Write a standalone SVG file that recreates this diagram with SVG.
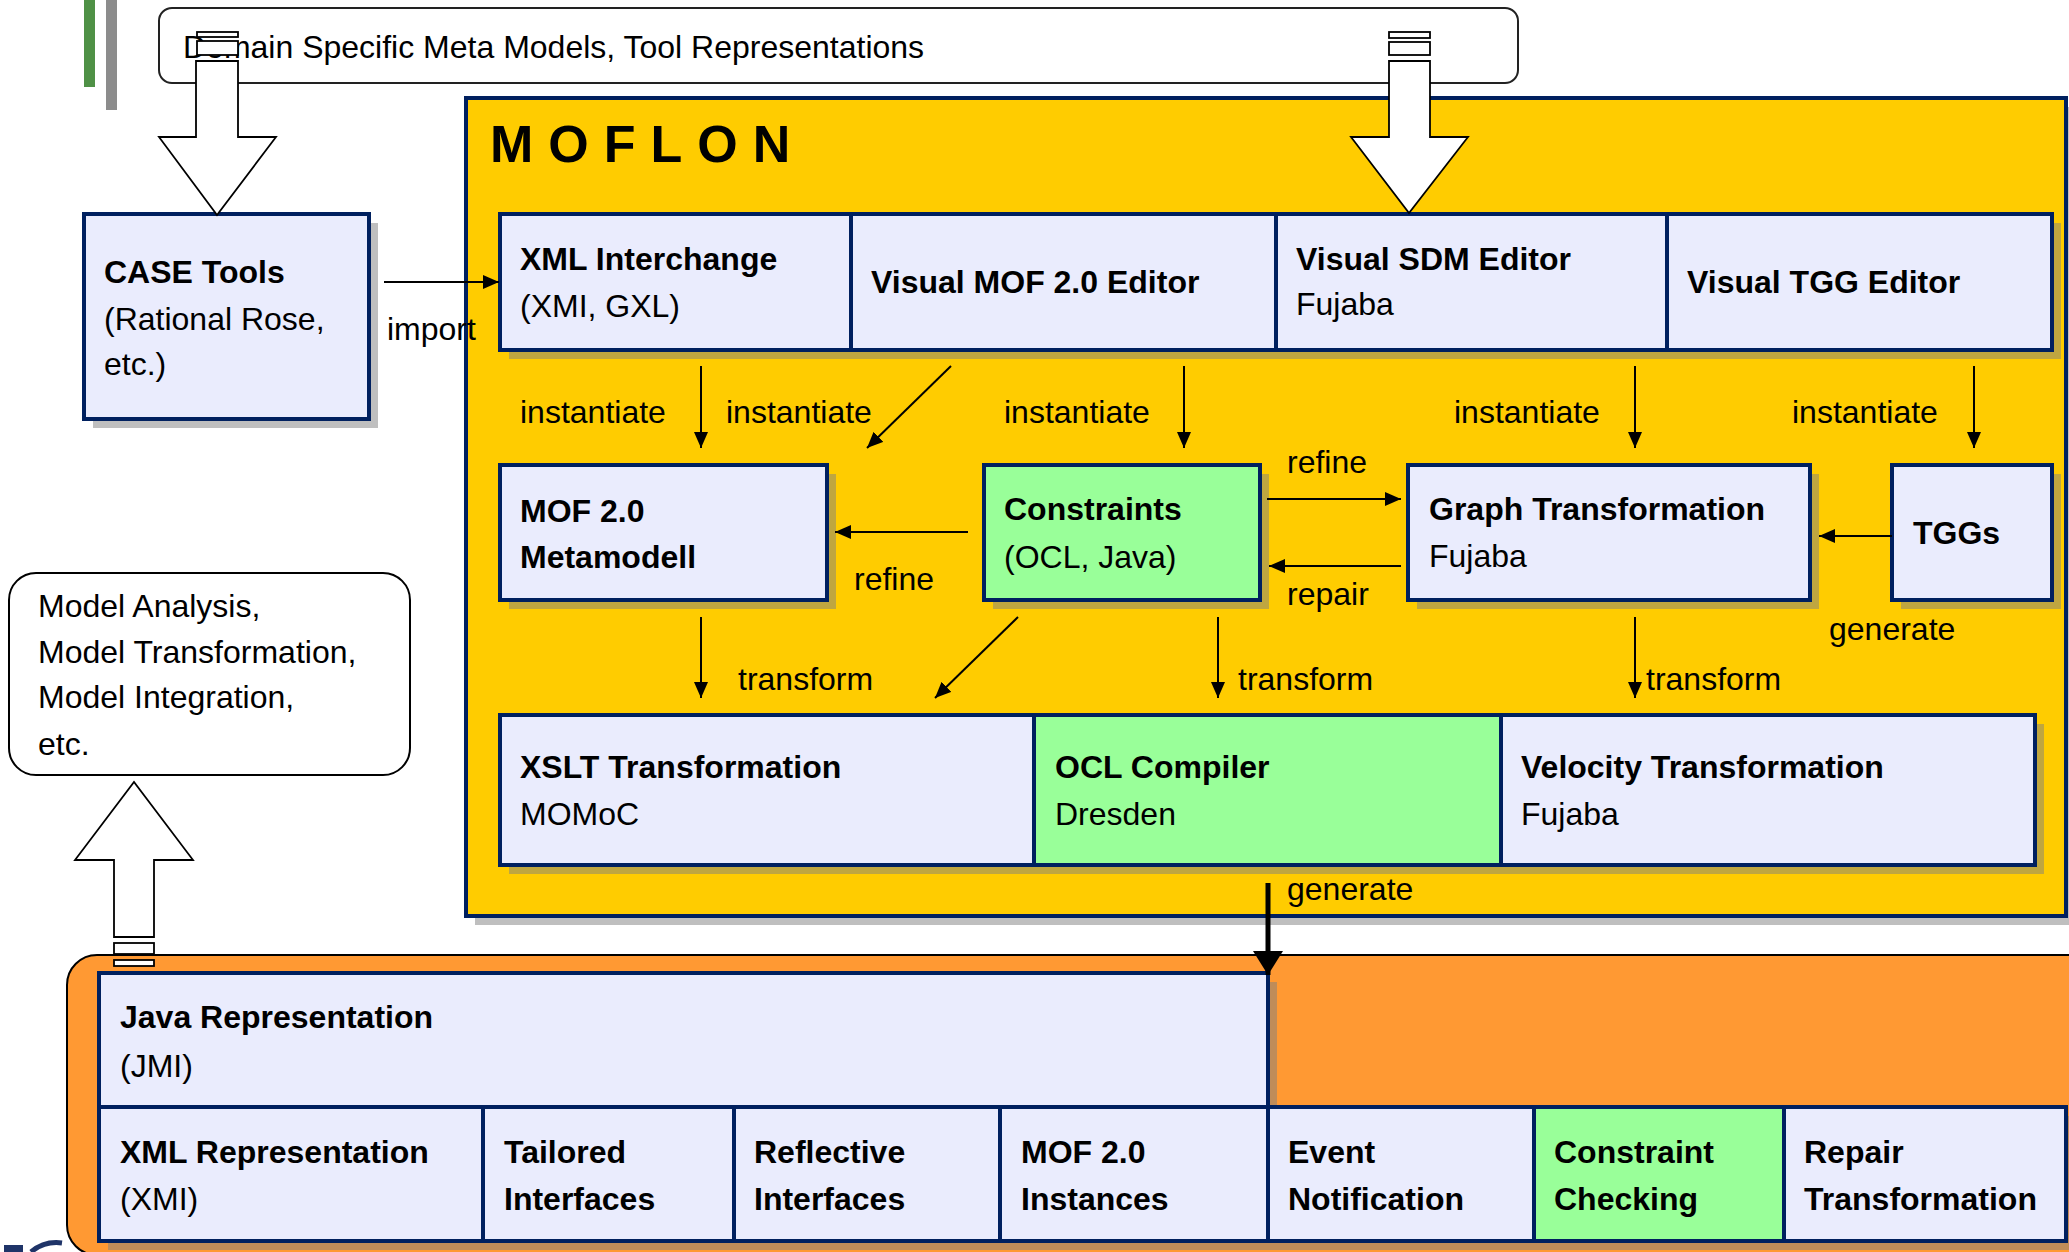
<svg xmlns="http://www.w3.org/2000/svg" width="2069" height="1252" viewBox="0 0 2069 1252">
<defs>
<style>
.t{font-family:"Liberation Sans",Arial,sans-serif;font-size:32px;fill:#000}
.bd{font-weight:bold}
.b{fill:#eaecfd;stroke:#00205f;stroke-width:4}
.g{fill:#99ff99;stroke:#00205f;stroke-width:4}
.sh{fill:#808080;fill-opacity:0.5}
.c{stroke:#000;stroke-width:2;fill:none;marker-end:url(#ah)}
.ho{fill:#fff;stroke:#000;stroke-width:1.8}
</style>
<marker id="ah" markerUnits="userSpaceOnUse" markerWidth="16" markerHeight="14" refX="16" refY="7" orient="auto"><path d="M0,0 L16,7 L0,14 z" fill="#000"/></marker>
<marker id="ah2" markerUnits="userSpaceOnUse" markerWidth="24" markerHeight="30" refX="24" refY="15" orient="auto"><path d="M0,0 L24,15 L0,30 z" fill="#000"/></marker>
</defs>
<rect width="2069" height="1252" fill="#fff"/>
<g id="bars"><rect x="84" y="0" width="11" height="87" fill="#4f9146"/><rect x="106" y="0" width="11" height="110" fill="#8c8c8c"/></g>
<g id="domain"><rect x="159" y="8" width="1359" height="75" rx="13" fill="#fff" stroke="#222" stroke-width="2"/><text class="t" x="183" y="58">Domain Specific Meta Models, Tool Representations</text></g>
<g id="moflon"><rect x="475" y="107" width="1600" height="818" class="sh"/><rect x="466" y="98" width="1600" height="818" fill="#ffcc00" stroke="#00205f" stroke-width="4"/><text class="t bd" x="490" y="162" style="font-size:52px;letter-spacing:15px">MOFLON</text></g>
<g id="orange"><rect x="67" y="955" width="2100" height="300" rx="30" fill="#ff9933" stroke="#000" stroke-width="2"/></g>
<g id="logo"><rect x="4" y="1245" width="19" height="7" fill="#1f3468"/><path d="M31,1252 A40,40 0 0 1 62,1243" fill="none" stroke="#1f3468" stroke-width="5"/></g>
<g id="case"><rect x="93" y="223" width="285" height="205" class="sh"/><rect x="84" y="214" width="285" height="205" class="b"/><text class="t bd" x="104" y="283">CASE Tools</text><text class="t" x="104" y="330">(Rational Rose,</text><text class="t" x="104" y="375">etc.)</text></g>
<g id="analysis"><rect x="9" y="573" width="401" height="202" rx="27" fill="#fff" stroke="#000" stroke-width="2"/><text class="t" x="38" y="617">Model Analysis,</text><text class="t" x="38" y="663">Model Transformation,</text><text class="t" x="38" y="708">Model Integration,</text><text class="t" x="38" y="755">etc.</text></g>
<g id="xmlinterchange"><rect x="509" y="223" width="351" height="136" class="sh"/><rect x="500" y="214" width="351" height="136" class="b"/><text class="t bd" x="520" y="270">XML Interchange</text><text class="t" x="520" y="317">(XMI, GXL)</text></g>
<g id="visualmof"><rect x="860" y="223" width="425" height="136" class="sh"/><rect x="851" y="214" width="425" height="136" class="b"/><text class="t bd" x="871" y="293">Visual MOF 2.0 Editor</text></g>
<g id="visualsdm"><rect x="1285" y="223" width="391" height="136" class="sh"/><rect x="1276" y="214" width="391" height="136" class="b"/><text class="t bd" x="1296" y="270">Visual SDM Editor</text><text class="t" x="1296" y="315">Fujaba</text></g>
<g id="visualtgg"><rect x="1676" y="223" width="385" height="136" class="sh"/><rect x="1667" y="214" width="385" height="136" class="b"/><text class="t bd" x="1687" y="293">Visual TGG Editor</text></g>
<g id="mofmeta"><rect x="509" y="474" width="327" height="135" class="sh"/><rect x="500" y="465" width="327" height="135" class="b"/><text class="t bd" x="520" y="522">MOF 2.0</text><text class="t bd" x="520" y="568">Metamodell</text></g>
<g id="constraints"><rect x="993" y="474" width="276" height="135" class="sh"/><rect x="984" y="465" width="276" height="135" class="g"/><text class="t bd" x="1004" y="520">Constraints</text><text class="t" x="1004" y="568">(OCL, Java)</text></g>
<g id="graphtrans"><rect x="1417" y="474" width="402" height="135" class="sh"/><rect x="1408" y="465" width="402" height="135" class="b"/><text class="t bd" x="1429" y="520">Graph Transformation</text><text class="t" x="1429" y="567">Fujaba</text></g>
<g id="tggs"><rect x="1901" y="474" width="160" height="135" class="sh"/><rect x="1892" y="465" width="160" height="135" class="b"/><text class="t bd" x="1913" y="544">TGGs</text></g>
<g id="xslt"><rect x="509" y="724" width="534" height="150" class="sh"/><rect x="500" y="715" width="534" height="150" class="b"/><text class="t bd" x="520" y="778">XSLT Transformation</text><text class="t" x="520" y="825">MOMoC</text></g>
<g id="oclcompiler"><rect x="1043" y="724" width="467" height="150" class="sh"/><rect x="1034" y="715" width="467" height="150" class="g"/><text class="t bd" x="1055" y="778">OCL Compiler</text><text class="t" x="1055" y="825">Dresden</text></g>
<g id="velocity"><rect x="1510" y="724" width="534" height="150" class="sh"/><rect x="1501" y="715" width="534" height="150" class="b"/><text class="t bd" x="1521" y="778">Velocity Transformation</text><text class="t" x="1521" y="825">Fujaba</text></g>
<g id="java"><rect x="108" y="982" width="1169" height="134" class="sh"/><rect x="99" y="973" width="1169" height="134" class="b"/><text class="t bd" x="120" y="1028">Java Representation</text><text class="t" x="120" y="1077">(JMI)</text></g>
<g id="xmlrep"><rect x="108" y="1116" width="384" height="134" class="sh"/><rect x="99" y="1107" width="384" height="134" class="b"/><text class="t bd" x="120" y="1163">XML Representation</text><text class="t" x="120" y="1210">(XMI)</text></g>
<g id="tailored"><rect x="492" y="1116" width="251" height="134" class="sh"/><rect x="483" y="1107" width="251" height="134" class="b"/><text class="t bd" x="504" y="1163">Tailored</text><text class="t bd" x="504" y="1210">Interfaces</text></g>
<g id="reflective"><rect x="743" y="1116" width="266" height="134" class="sh"/><rect x="734" y="1107" width="266" height="134" class="b"/><text class="t bd" x="754" y="1163">Reflective</text><text class="t bd" x="754" y="1210">Interfaces</text></g>
<g id="instances"><rect x="1009" y="1116" width="268" height="134" class="sh"/><rect x="1000" y="1107" width="268" height="134" class="b"/><text class="t bd" x="1021" y="1163">MOF 2.0</text><text class="t bd" x="1021" y="1210">Instances</text></g>
<g id="event"><rect x="1277" y="1116" width="266" height="134" class="sh"/><rect x="1268" y="1107" width="266" height="134" class="b"/><text class="t bd" x="1288" y="1163">Event</text><text class="t bd" x="1288" y="1210">Notification</text></g>
<g id="checking"><rect x="1543" y="1116" width="250" height="134" class="sh"/><rect x="1534" y="1107" width="250" height="134" class="g"/><text class="t bd" x="1554" y="1163">Constraint</text><text class="t bd" x="1554" y="1210">Checking</text></g>
<g id="repair"><rect x="1793" y="1116" width="282" height="134" class="sh"/><rect x="1784" y="1107" width="282" height="134" class="b"/><text class="t bd" x="1804" y="1163">Repair</text><text class="t bd" x="1804" y="1210">Transformation</text></g>
<g id="connectors">
<line class="c" x1="384" y1="282" x2="499" y2="282"/>
<line class="c" x1="701" y1="366" x2="701" y2="448"/>
<line class="c" x1="951" y1="366" x2="867" y2="448"/>
<line class="c" x1="1184" y1="366" x2="1184" y2="448"/>
<line class="c" x1="1635" y1="366" x2="1635" y2="448"/>
<line class="c" x1="1974" y1="366" x2="1974" y2="448"/>
<line class="c" x1="968" y1="532" x2="835" y2="532"/>
<line class="c" x1="1267" y1="499" x2="1401" y2="499"/>
<line class="c" x1="1401" y1="566" x2="1269" y2="566"/>
<line class="c" x1="1892" y1="536" x2="1819" y2="536"/>
<line class="c" x1="701" y1="617" x2="701" y2="698"/>
<line class="c" x1="1018" y1="617" x2="935" y2="698"/>
<line class="c" x1="1218" y1="617" x2="1218" y2="698"/>
<line class="c" x1="1635" y1="617" x2="1635" y2="698"/>
<line x1="1268" y1="883" x2="1268" y2="975" stroke="#000" stroke-width="5" marker-end="url(#ah2)"/>
<text class="t" x="387" y="340">import</text>
<text class="t" x="520" y="423">instantiate</text>
<text class="t" x="726" y="423">instantiate</text>
<text class="t" x="1004" y="423">instantiate</text>
<text class="t" x="1454" y="423">instantiate</text>
<text class="t" x="1792" y="423">instantiate</text>
<text class="t" x="854" y="590">refine</text>
<text class="t" x="1287" y="473">refine</text>
<text class="t" x="1287" y="605">repair</text>
<text class="t" x="1829" y="640">generate</text>
<text class="t" x="738" y="690">transform</text>
<text class="t" x="1238" y="690">transform</text>
<text class="t" x="1646" y="690">transform</text>
<text class="t" x="1287" y="900">generate</text>
</g>
<g id="hollow-arrows">
<rect class="ho" x="197" y="32" width="41" height="5"/><rect class="ho" x="197" y="41" width="41" height="14"/>
<polygon class="ho" points="196,61 238,61 238,137 276,137 217,215 159,137 196,137"/>
<rect class="ho" x="1389" y="32" width="41" height="6"/><rect class="ho" x="1389" y="42" width="41" height="13"/>
<polygon class="ho" points="1389,61 1430,61 1430,137 1468,137 1409,213 1351,137 1389,137"/>
<polygon class="ho" points="114,937 154,937 154,860 193,860 134,782 75,860 114,860"/>
<rect class="ho" x="114" y="943" width="40" height="11"/><rect class="ho" x="114" y="960" width="40" height="6"/>
</g>
</svg>
